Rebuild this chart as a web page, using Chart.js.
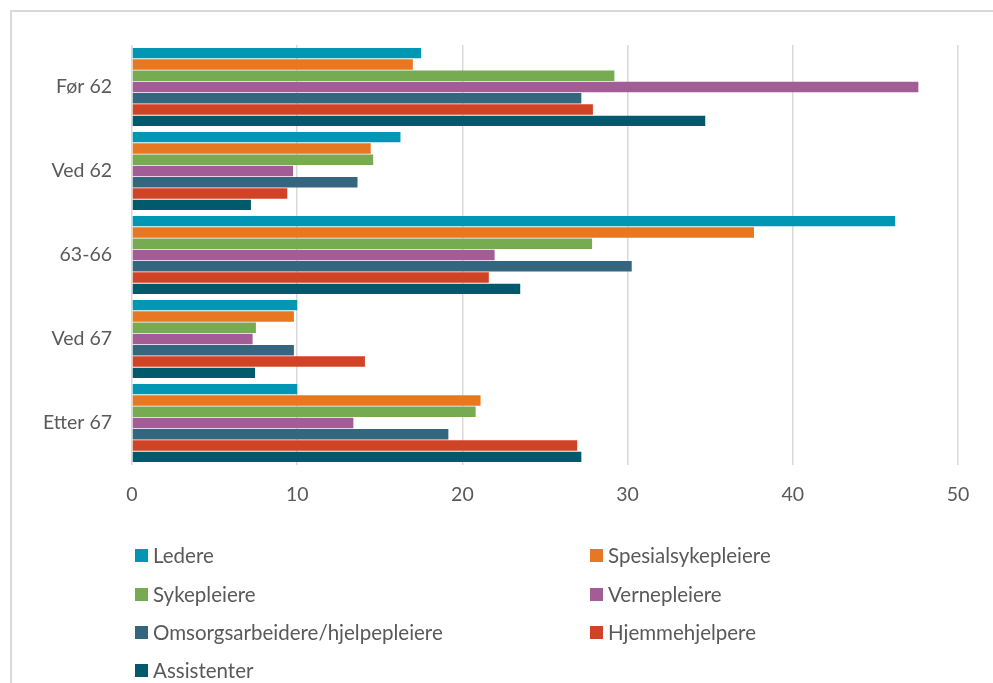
<!DOCTYPE html>
<html>
<head>
<meta charset="utf-8">
<script src="https://cdn.jsdelivr.net/npm/chart.js@4"></script>
<style>
  html, body { margin: 0; padding: 0; background: #fff; }
  #wrap { position: relative; width: 993px; height: 683px; overflow: hidden; }
  #frame { position: absolute; left: 10px; top: 10px; width: 1000px; height: 700px;
           border-left: 2px solid #d9d9d9; border-top: 2px solid #d9d9d9; box-sizing: border-box; }
  #chart { position: absolute; left: 0; top: 0; }
  #legend { position: absolute; left: 135px; top: 536px; width: 820px;
            font-family: Lato, sans-serif; font-size: 20.5px; color: #595959; }
  .item { position: absolute; height: 22px; display: flex; align-items: center; white-space: nowrap; }
  .box { width: 13px; height: 13px; margin-right: 5px; flex: none; }
</style>
</head>
<body>
<div id="wrap">
  <div id="frame"></div>
  <canvas id="chart" width="993" height="683"></canvas>
  <div id="legend"></div>
</div>
<script>
const categories = ['Før 62', 'Ved 62', '63-66', 'Ved 67', 'Etter 67'];
const seriesNames = ['Ledere', 'Spesialsykepleiere', 'Sykepleiere', 'Vernepleiere',
  'Omsorgsarbeidere/hjelpepleiere', 'Hjemmehjelpere', 'Assistenter'];
const seriesColors = ['#0096b4', '#e87722', '#76ab52', '#a25c96', '#34667f', '#d04425', '#005a6b'];

const ledere = [17.5, 16.25, 46.2, 10.0, 10.0];
const spesialsykepleiere = [17.0, 14.45, 37.65, 9.8, 21.1];
const sykepleiere = [29.2, 14.6, 27.85, 7.5, 20.8];
const vernepleiere = [47.6, 9.75, 21.95, 7.3, 13.4];
const omsorgsarbeidere = [27.2, 13.65, 30.25, 9.8, 19.15];
const hjemmehjelpere = [27.9, 9.4, 21.6, 14.1, 26.95];
const assistenter = [34.7, 7.2, 23.5, 7.45, 27.2];

const xTicks = [0, 10, 20, 30, 40, 50];

const seriesValues = [ledere, spesialsykepleiere, sykepleiere, vernepleiere,
  omsorgsarbeidere, hjemmehjelpere, assistenter];

Chart.defaults.font.family = 'Lato, sans-serif';
Chart.defaults.font.size = 19.5;
Chart.defaults.color = '#595959';

const datasets = seriesNames.map((name, i) => ({
  label: name,
  data: seriesValues[i],
  backgroundColor: seriesColors[i],
  borderWidth: 0,
  categoryPercentage: 0.94,
  barPercentage: 0.92
}));

const chart = new Chart(document.getElementById('chart'), {
  type: 'bar',
  data: { labels: categories, datasets: datasets },
  options: {
    indexAxis: 'y',
    responsive: false,
    animation: false,
    layout: { padding: { left: 10, right: 35, top: 45, bottom: 168 } },
    plugins: { legend: { display: false }, tooltip: { enabled: false } },
    scales: {
      x: {
        min: 0,
        max: 50,
        afterBuildTicks: (scale) => { scale.ticks = xTicks.map(v => ({ value: v })); },
        afterFit: (scale) => { scale.height = 50; },
        grid: { color: '#d9d9d9', lineWidth: 1.5, drawTicks: false },
        border: { display: false },
        ticks: { padding: 18, color: '#595959' }
      },
      y: {
        afterFit: (scale) => { scale.width = 122; },
        grid: { display: false, drawTicks: false },
        border: { display: false },
        ticks: { padding: 20, color: '#595959' }
      }
    }
  }
});

// legend in two columns, like the original
const legend = document.getElementById('legend');
const colX = [0, 455];
const rowY = [0, 39, 77, 115];
seriesNames.forEach((name, i) => {
  const item = document.createElement('div');
  item.className = 'item';
  item.style.left = colX[i % 2] + 'px';
  item.style.top = (rowY[Math.floor(i / 2)] + 8) + 'px';
  item.innerHTML = '<span class="box" style="background:' + seriesColors[i] + '"></span>' + name;
  legend.appendChild(item);
});
</script>
</body>
</html>
